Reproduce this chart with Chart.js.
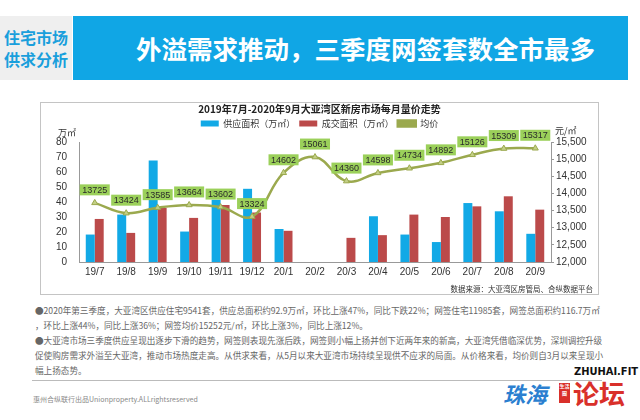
<!DOCTYPE html>
<html lang="zh">
<head>
<meta charset="utf-8">
<script src="https://cdn.jsdelivr.net/npm/chart.js@4.4.1/dist/chart.umd.min.js"></script>
<style>
  html, body { margin: 0; padding: 0; background: #fff; }
  body { width: 640px; height: 420px; position: relative; overflow: hidden;
         font-family: "Noto Sans CJK SC", "Noto Sans", sans-serif; }
  .abs { position: absolute; }
  #side { left: 0; top: 16px; width: 72px; height: 64px; background: #efefef; color: #1a9fdc;
          font-weight: bold; font-size: 16px; line-height: 22px; text-align: center;
          padding-top: 10px; box-sizing: border-box; }
  #banner { left: 73px; top: 16px; width: 555px; height: 64px; background: #10a6e5; color: #fff;
            font-weight: bold; font-size: 25.5px; line-height: 64px; text-align: center;
            padding-left: 30px; box-sizing: border-box; }
  #frame { left: 40px; top: 102px; width: 559px; height: 193px; border: 1px solid #c4c4c4;
           box-sizing: border-box; }
  #src { right: 47px; top: 283px; font-size: 7.5px; color: #333; }
  .para { left: 35px; font-size: 8.6px; color: #666; white-space: nowrap; }
  #rule { left: 32px; top: 380px; width: 570px; height: 1px; background: #bbb; }
  #foot { left: 33px; top: 394px; font-size: 7px; color: #888; }
</style>
</head>
<body>
<div id="side" class="abs">住宅市场<br>供求分析</div>
<div id="banner" class="abs">外溢需求推动，三季度网签套数全市最多</div>

<div id="frame" class="abs"><canvas id="chart"></canvas></div>
<div id="src" class="abs">数据来源：大亚湾区房管局、合纵数据平台</div>

<div class="abs para" style="top:304px">●2020年第三季度，大亚湾区供应住宅9541套，供应总面积约92.9万㎡，环比上涨47%，同比下跌22%；网签住宅11985套，网签总面积约116.7万㎡</div>
<div class="abs para" style="top:319px">，环比上涨44%，同比上涨36%；网签均价15252元/㎡，环比上涨3%，同比上涨12%。</div>
<div class="abs para" style="top:334px">●大亚湾市场三季度供应呈现出逐步下滑的趋势，网签则表现先涨后跌，网签则小幅上扬并创下近两年来的新高，大亚湾凭借临深优势，深圳调控升级</div>
<div class="abs para" style="top:349px">促使购房需求外溢至大亚湾，推动市场热度走高。从供求来看，从5月以来大亚湾市场持续呈现供不应求的局面。从价格来看，均价则自3月以来呈现小</div>
<div class="abs para" style="top:364px">幅上扬态势。</div>
<div id="rule" class="abs"></div>
<div id="foot" class="abs">惠州合纵联行出品Unionproperty.ALLrightsreserved</div>

<div class="abs" style="left:574px;top:365px;font:bold 11px 'DejaVu Sans Condensed',sans-serif;color:#111;background:#fff">ZHUHAI.FIT</div>
<div class="abs" style="left:503px;top:380px;font:italic bold 22px/26px 'Noto Sans CJK SC';color:#2b7fd0">珠海</div>
<div class="abs" style="left:559px;top:383px;width:11px;height:20px;background:#d9302a;color:#fff;font:bold 5px 'Noto Sans CJK SC';line-height:6.5px;text-align:center">生活圈</div>
<div class="abs" style="left:573px;top:379px;font:bold 26px/28px 'Noto Sans CJK SC';color:#d9302a">论坛</div>

<script>
// months on the x axis
const months = ['19/7', '19/8', '19/9', '19/10', '19/11', '19/12', '20/1', '20/2',
                '20/3', '20/4', '20/5', '20/6', '20/7', '20/8', '20/9'];
// supply area, 万㎡ (no supply in 20/2 and 20/3)
const supply = [18.3, 31.6, 67.6, 20.3, 41.5, 48.8, 22, null, null, 30.5, 18.3, 13.3, 39.3, 33.8, 18.8];
// deal area, 万㎡
const deals = [28.7, 19.4, 36, 29.4, 38, 33, 20.8, null, 16.1, 17.9, 31.6, 30, 37.1, 43.8, 34.9];
// average price, 元/㎡
const prices = [13725, 13424, 13585, 13664, 13602, 13324, 14602, 15061,
                14360, 14598, 14734, 14892, 15126, 15309, 15317];

const BLUE = '#12a9e6';
const RED = '#bb4a4a';
const OLIVE = '#9ba94e';
const TAG = '#9bd05a';

// price tags above the line points, plus the two axis unit captions
const tagPlugin = {
  id: 'priceTags',
  afterInit(chart) {
    // keep the legend tight to the title but leave a little room below it
    const lg = chart.legend;
    const fit = lg.fit.bind(lg);
    lg.fit = function () { fit(); this.height += 4; };
  },
  afterDatasetsDraw(chart) {
    const ctx = chart.ctx;
    const meta = chart.getDatasetMeta(2);
    ctx.save();
    ctx.font = '9px "Liberation Sans", sans-serif';
    ctx.textAlign = 'center';
    ctx.textBaseline = 'middle';
    meta.data.forEach((pt, i) => {
      const txt = String(prices[i]);
      const w = ctx.measureText(txt).width + 5;
      const h = 11;
      const y = pt.y - 13;
      ctx.fillStyle = TAG;
      ctx.fillRect(pt.x - w / 2, y - h / 2, w, h);
      ctx.fillStyle = '#2a2a2a';
      ctx.fillText(txt, pt.x, y + 0.5);
    });
    const top = chart.chartArea.top;
    ctx.font = '9px "Noto Sans CJK SC"';
    ctx.fillStyle = '#333';
    ctx.textAlign = 'right';
    ctx.fillText('万㎡', chart.scales.y.right - 3, top - 9);
    ctx.textAlign = 'left';
    ctx.fillText('元/㎡', chart.scales.y1.left + 4, top - 11);
    ctx.restore();
  }
};

const tickFont = { family: '"Liberation Sans", sans-serif', size: 10 };

new Chart(document.getElementById('chart'), {
  data: {
    labels: months,
    datasets: [
      { type: 'bar', label: '供应面积（万㎡）', data: supply, backgroundColor: BLUE,
        yAxisID: 'y', order: 1, barPercentage: 1, categoryPercentage: 0.57 },
      { type: 'bar', label: '成交面积（万㎡）', data: deals, backgroundColor: RED,
        yAxisID: 'y', order: 1, barPercentage: 1, categoryPercentage: 0.57 },
      { type: 'line', label: '均价', data: prices, yAxisID: 'y1', order: 0,
        borderColor: OLIVE, backgroundColor: OLIVE, borderWidth: 2.5, tension: 0.4,
        pointStyle: 'triangle', pointRadius: 3.5, pointBackgroundColor: '#c3cf86',
        pointBorderColor: OLIVE, pointBorderWidth: 1 }
    ]
  },
  options: {
    responsive: true,
    maintainAspectRatio: false,
    animation: false,
    layout: { padding: 0 },
    plugins: {
      title: {
        display: true,
        text: '2019年7月-2020年9月大亚湾区新房市场每月量价走势',
        color: '#222',
        font: { family: '"Noto Sans CJK SC"', size: 10, weight: 'bold' },
        padding: { top: 0, bottom: 0 }
      },
      legend: {
        display: true,
        labels: {
          boxWidth: 18, boxHeight: 6, padding: 4, color: '#333',
          font: { family: '"Noto Sans CJK SC"', size: 9 },
          sort: (a, b) => a.datasetIndex - b.datasetIndex
        }
      },
      tooltip: { enabled: false }
    },
    scales: {
      x: {
        grid: { display: false, drawTicks: false },
        border: { color: '#999' },
        ticks: { color: '#333', font: tickFont, maxRotation: 0, autoSkip: false, padding: 4 },
        afterFit: s => { s.height = 32; }
      },
      y: {
        position: 'left', min: 0, max: 80,
        grid: { display: false },
        border: { color: '#999' },
        ticks: { stepSize: 10, color: '#333', font: tickFont, padding: 4 },
        afterFit: s => { s.width = 38; }
      },
      y1: {
        position: 'right', min: 12000, max: 15500,
        grid: { display: true, drawOnChartArea: false, drawTicks: true, tickLength: 3, color: '#999' },
        border: { color: '#999' },
        ticks: { stepSize: 500, color: '#333', font: tickFont, padding: 2 },
        afterFit: s => { s.width = 47; }
      }
    }
  },
  plugins: [tagPlugin]
});
</script>
</body>
</html>
